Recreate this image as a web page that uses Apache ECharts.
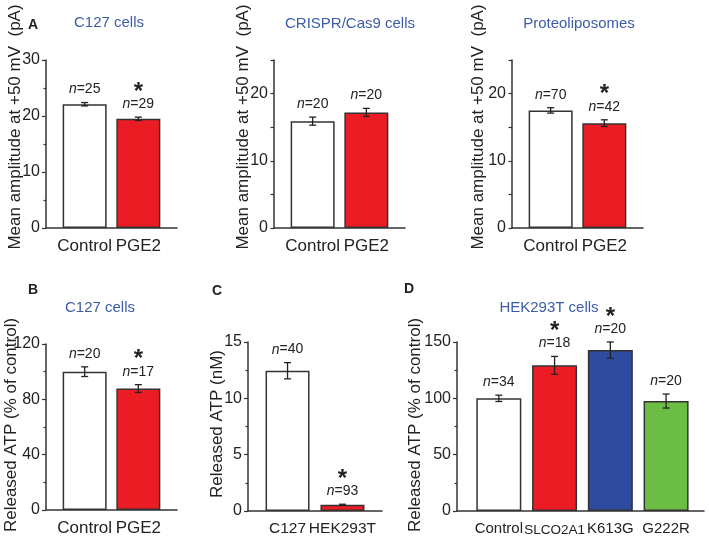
<!DOCTYPE html>
<html>
<head>
<meta charset="utf-8">
<script src="https://cdn.jsdelivr.net/npm/echarts@6/dist/echarts.min.js"></script>
<style>
  html, body { margin: 0; padding: 0; background: #fff; }
  #main { width: 709px; height: 537px; }
</style>
</head>
<body>
<div id="main"></div>
<script>
// A: C127 cells
const a1Cats = ['Control', 'PGE2'];
const a1Mean = [22.1, 19.5];
const a1Err = [0.3, 0.3];
const a1N = [25, 29];
const a1Star = [0, 1];
// A: CRISPR/Cas9 cells
const a2Cats = ['Control', 'PGE2'];
const a2Mean = [15.9, 17.2];
const a2Err = [0.6, 0.6];
const a2N = [20, 20];
const a2Star = [0, 0];
// A: Proteoliposomes
const a3Cats = ['Control', 'PGE2'];
const a3Mean = [17.5, 15.6];
const a3Err = [0.4, 0.5];
const a3N = [70, 42];
const a3Star = [0, 1];
// B: C127 cells ATP
const bCats = ['Control', 'PGE2'];
const bMean = [100, 87.8];
const bErr = [3.5, 2.8];
const bN = [20, 17];
const bStar = [0, 1];
// C
const cCats = ['C127', 'HEK293T'];
const cMean = [12.45, 0.55];
const cErr = [0.72, 0.05];
const cN = [40, 93];
const cStar = [0, 1];
// D: HEK293T cells
const dCats = ['Control', 'SLCO2A1', 'K613G', 'G222R'];
const dMean = [100, 129.3, 142.8, 97.6];
const dErr = [2.8, 7.9, 7.2, 6.2];
const dN = [34, 18, 20, 20];
const dStar = [0, 1, 1, 0];

// 颜色
const WHITE = '#ffffff';
const RED = '#ec1c24';
const BLUE = '#2e4b9f';
const GREEN = '#6bbd46';
const INK = '#222';
const TITLE = '#3c5ca8';
const FONT = '"Liberation Sans", Arial, sans-serif';

const panels = [
  { cats: a1Cats, mean: a1Mean, err: a1Err, n: a1N, star: a1Star, colors: [WHITE, RED],
    grid: { left: 46, top: 60, width: 131, height: 168 }, yMax: 30, yInt: 10, minor: true },
  { cats: a2Cats, mean: a2Mean, err: a2Err, n: a2N, star: a2Star, colors: [WHITE, RED],
    grid: { left: 274, top: 60, width: 131, height: 168 }, yMax: 25, yInt: 5, minor: false },
  { cats: a3Cats, mean: a3Mean, err: a3Err, n: a3N, star: a3Star, colors: [WHITE, RED],
    grid: { left: 512, top: 60, width: 131, height: 168 }, yMax: 25, yInt: 5, minor: false },
  { cats: bCats, mean: bMean, err: bErr, n: bN, star: bStar, colors: [WHITE, RED],
    grid: { left: 46, top: 344, width: 131, height: 168 }, yMax: 120, yInt: 40, minor: true },
  { cats: cCats, mean: cMean, err: cErr, n: cN, star: cStar, colors: [WHITE, RED],
    grid: { left: 248, top: 342, width: 134, height: 170 }, yMax: 15, yInt: 5, minor: true,
    labelSize: 15.5 },
  { cats: dCats, mean: dMean, err: dErr, n: dN, star: dStar, colors: [WHITE, RED, BLUE, GREEN],
    grid: { left: 457, top: 342, width: 247, height: 170 }, yMax: 150, yInt: 50, minor: true,
    xMin: -0.75, xPad: 0.68, labelSize: 15, narrowIdx: 1, narrowSize: 13.5 },
];

const lineStyle = { color: '#333', width: 1.5 };

// 误差棒 + n 标注 + 星号
function errRender(params, api) {
  const x = api.value(0);
  const lo = api.coord([x, api.value(1)]);
  const hi = api.coord([x, api.value(2)]);
  const cap = 3.5;
  const ls = { stroke: INK, lineWidth: 1.3 };
  const children = [
    { type: 'line', shape: { x1: hi[0], y1: hi[1], x2: lo[0], y2: lo[1] }, style: ls },
    { type: 'line', shape: { x1: hi[0] - cap, y1: hi[1], x2: hi[0] + cap, y2: hi[1] }, style: ls },
    { type: 'line', shape: { x1: lo[0] - cap, y1: lo[1], x2: lo[0] + cap, y2: lo[1] }, style: ls },
    {
      type: 'text', x: hi[0], y: hi[1] - 13,
      style: {
        text: '{i|n}=' + api.value(3),
        font: '14px ' + FONT, fill: INK, align: 'center', verticalAlign: 'middle',
        rich: { i: { font: 'italic 14px ' + FONT, fill: INK } },
      },
    },
  ];
  if (api.value(4)) {
    children.push({
      type: 'text', x: hi[0], y: hi[1] - 25,
      style: { text: '*', font: 'bold 24px ' + FONT, fill: INK, align: 'center', verticalAlign: 'middle' },
    });
  }
  return { type: 'group', children };
}

const option = {
  animation: false,
  backgroundColor: '#fff',
  textStyle: { fontFamily: FONT },
  grid: [], xAxis: [], yAxis: [], series: [],
};

panels.forEach((p, k) => {
  const xMin = p.xMin ?? -0.72;
  const xPad = p.xPad ?? 0.72;
  const size = p.labelSize || 17;
  option.grid.push({ ...p.grid, containLabel: false });
  option.xAxis.push({
    gridIndex: k, type: 'value', min: xMin, max: p.cats.length - 1 + xPad,
    axisLine: { show: true, onZero: false, lineStyle },
    axisTick: { show: false }, splitLine: { show: false },
    axisLabel: {
      customValues: p.cats.map((c, i) => i),
      formatter: (v) => {
        const i = Math.round(v);
        return i === p.narrowIdx ? '{s|' + p.cats[i] + '}' : p.cats[i];
      },
      rich: { s: { fontSize: p.narrowSize || size, fontFamily: FONT, color: INK, padding: [2, 0, 0, 0] } },
      interval: 0, showMinLabel: true, showMaxLabel: true, hideOverlap: false,
      fontSize: size, color: INK, margin: 10, fontFamily: FONT,
    },
  });
  option.yAxis.push({
    gridIndex: k, type: 'value', min: 0, max: p.yMax, interval: p.yInt,
    axisLine: { show: true, onZero: false, lineStyle },
    axisTick: { show: true, length: p.minor ? 4 : 3.5, lineStyle: { color: '#333', width: 1.2 } },
    minorTick: { show: p.minor, splitNumber: 2, length: 2.5, lineStyle: { color: '#333', width: 1.2 } },
    splitLine: { show: false }, minorSplitLine: { show: false },
    axisLabel: {
      fontSize: 16, color: INK, margin: 6, fontFamily: FONT,
      formatter: p.minor ? '{value}' : (v) => (v % 10 === 0 ? String(v) : ''),
    },
  });
  option.series.push({
    type: 'bar', xAxisIndex: k, yAxisIndex: k, silent: true,
    barWidth: k === 5 ? 45 : 44,
    itemStyle: { borderColor: '#333', borderWidth: 1.5 },
    data: p.mean.map((v, i) => ({ value: [i, v], itemStyle: { color: p.colors[i] } })),
  });
  option.series.push({
    type: 'custom', xAxisIndex: k, yAxisIndex: k, silent: true, z: 5,
    renderItem: errRender,
    encode: { x: 0, y: [1, 2] },
    data: p.mean.map((v, i) => [i, v - p.err[i], v + p.err[i], p.n[i], p.star[i]]),
  });
});

// 文字：面板字母、小标题、纵轴名称
function txt(text, x, y, font, fill, rot) {
  return {
    type: 'text', x, y, rotation: rot || 0,
    style: { text, font, fill, align: 'center', verticalAlign: 'middle' },
  };
}
const yNameFont = '17px ' + FONT;
option.graphic = [
  txt('A', 33, 25, 'bold 14px ' + FONT, INK),
  txt('B', 33, 290, 'bold 14px ' + FONT, INK),
  txt('C', 217, 291, 'bold 14px ' + FONT, INK),
  txt('D', 409, 289, 'bold 14px ' + FONT, INK),
  txt('C127 cells', 109, 23, '15px ' + FONT, TITLE),
  txt('CRISPR/Cas9 cells', 350, 24, '15px ' + FONT, TITLE),
  txt('Proteoliposomes', 579, 24, '15px ' + FONT, TITLE),
  txt('C127 cells', 100, 308, '15px ' + FONT, TITLE),
  txt('HEK293T cells', 549, 308, '15px ' + FONT, TITLE),
  txt('Mean amplitude at +50 mV  (pA)', 15, 127, yNameFont, INK, Math.PI / 2),
  txt('Mean amplitude at +50 mV  (pA)', 243, 127, yNameFont, INK, Math.PI / 2),
  txt('Mean amplitude at +50 mV  (pA)', 478, 127, yNameFont, INK, Math.PI / 2),
  txt('Released ATP (% of control)', 11, 425, yNameFont, INK, Math.PI / 2),
  txt('Released ATP (nM)', 217, 424, yNameFont, INK, Math.PI / 2),
  txt('Released ATP (% of control)', 415, 425, yNameFont, INK, Math.PI / 2),
];

const myChart = echarts.init(document.getElementById('main'), null, { renderer: 'canvas' });
myChart.setOption(option);
window.onresize = () => myChart.resize();
</script>
</body>
</html>
